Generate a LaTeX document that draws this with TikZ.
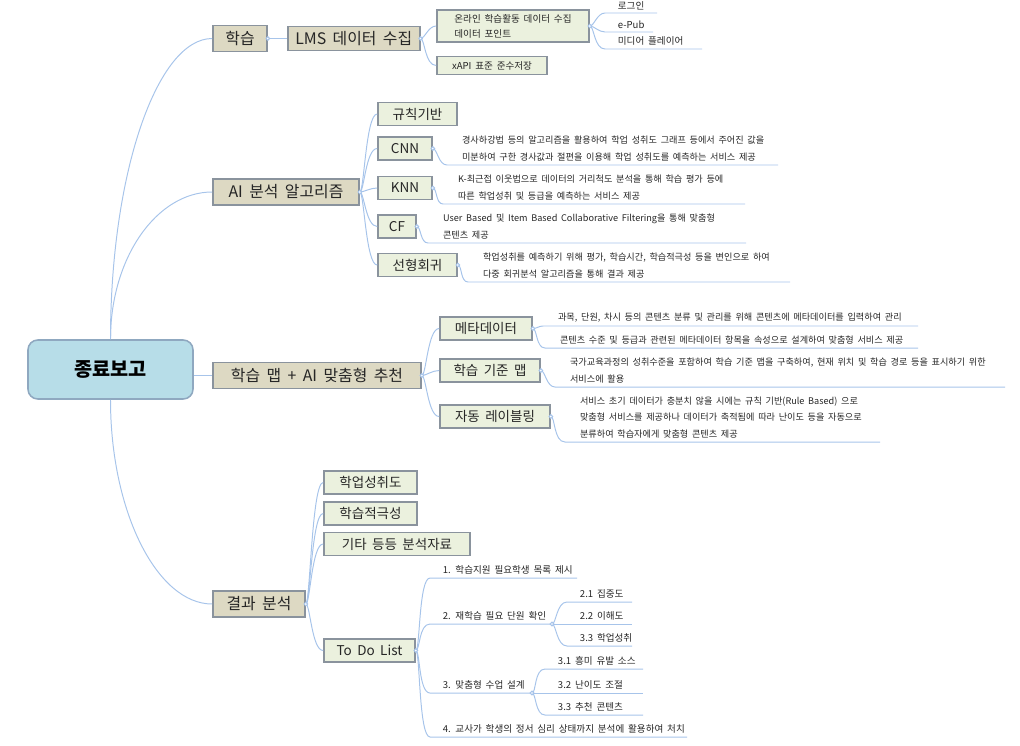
\documentclass[tikz,border=0pt]{standalone}
\usepackage{fontspec}
\setmainfont{Noto Sans CJK KR}[WordSpace=1.8]
\usepackage{xcolor}
\usepackage{tikz}
\usetikzlibrary{positioning,calc}

\definecolor{linkblue}{HTML}{A7C4EA}
\definecolor{rootfill}{HTML}{B7DDE8}
\definecolor{rootdraw}{HTML}{8FA8C0}
\definecolor{beige}{HTML}{DDD9C3}
\definecolor{sage}{HTML}{EBF1DE}
\definecolor{boxdraw}{HTML}{8A939D}
\definecolor{inkgray}{HTML}{262626}

\begin{document}
\begin{tikzpicture}[
    x=0.025cm, y=-0.025cm,
    rootbox/.style={rectangle, draw=rootdraw, line width=1.1pt, fill=rootfill, rounded corners=7pt, minimum width=4.125cm, minimum height=1.475cm, font=\fontsize{14}{16}\selectfont\bfseries},
    topicbox/.style={rectangle, draw=boxdraw, line width=1.2pt, fill=beige, minimum height=0.65cm, inner sep=0pt, text=inkgray, font=\fontsize{11.3}{13}\selectfont},
    subbox/.style={rectangle, draw=boxdraw, line width=1.2pt, fill=sage, minimum height=0.575cm, inner sep=0pt, text=inkgray, font=\fontsize{9.6}{11}\selectfont},
    leaftext/.style={anchor=south west, inner xsep=9pt, inner ysep=2.2pt, text=inkgray, font=\fontsize{6.8}{8}\selectfont},
    desctext/.style={anchor=south west, align=left, inner xsep=10.5pt, inner ysep=2.6pt, text=inkgray, font=\fontsize{6.5}{11.7}\selectfont},
    conn/.style={draw=linkblue, line width=0.7pt},
    curvy/.style={out=0, in=180, out max distance=3pt, in max distance=8pt}
]
    \useasboundingbox (0,0) rectangle (1020,745);

    % --- Root ---
    \node[rootbox] (root) at (110.5,369.5) {종료보고};

    % --- Main topics ---
    \node[topicbox, minimum width=1.35cm] (learn) at (240,38.5) {학습};
    \node[topicbox, minimum width=3.65cm] (ai) at (286,192) {AI 분석 알고리즘};
    \node[topicbox, minimum width=5.2cm] (map) at (317,375.5) {학습 맵 + AI 맞춤형 추천};
    \node[topicbox, minimum width=2.3cm] (result) at (259,604) {결과 분석};

    \draw[conn] (root.north) .. controls +(0,-166) and +(-55,0) .. (learn.west);
    \draw[conn] (root.north) .. controls +(0,-82) and +(-55,0) .. (ai.west);
    \draw[conn] (map.west -| root.east) -- (map.west);
    \draw[conn] (root.south) .. controls +(0,112) and +(-55,0) .. (result.west);

    % --- 학습 ---
    \node[topicbox, minimum width=3.3cm, minimum height=0.6cm, right=0.475cm of learn] (lms) {LMS 데이터 수집};
    \node[subbox, minimum width=3.8cm, minimum height=0.8cm, align=left, font=\fontsize{6.8}{10.6}\selectfont] (online) at (513,26) {온라인 학습활동 데이터 수집\\데이터 포인트};
    \node[subbox, minimum width=2.75cm, minimum height=0.45cm, font=\fontsize{6.8}{8}\selectfont] (xapi) at (492,65.5) {xAPI 표준 준수저장};
    \node[leaftext] (login) at (605,13) {로그인};
    \node[leaftext] (epub) at (605,32) {e-Pub};
    \node[leaftext] (player) at (605,49) {미디어 플레이어};

    \draw[conn] (learn) -- (lms);
    \draw[conn] (lms.east) to[curvy] (online.west);
    \draw[conn] (lms.east) to[curvy] (xapi.west);
    \draw[conn] (online.east) to[curvy] (login.south west) -- ++(52,0);
    \draw[conn] (online.east) to[curvy] (epub.south west) -- ++(48,0);
    \draw[conn] (online.east) to[curvy] (player.south west) -- ++(97,0);

    % --- AI 분석 알고리즘 ---
    \node[subbox, minimum width=1.975cm] (rule) at (417.5,114) {규칙기반};
    \node[subbox, minimum width=1.35cm] (cnn) at (405,148.5) {CNN};
    \node[subbox, minimum width=1.35cm] (knn) at (405,188) {KNN};
    \node[subbox, minimum width=0.95cm] (cf) at (397,226.5) {CF};
    \node[subbox, minimum width=1.975cm] (linreg) at (417.5,265) {선형회귀};

    \foreach \c in {rule,cnn,knn,cf,linreg}
        \draw[conn] (ai.east) to[curvy] (\c.west);

    \node[desctext] (cnn-txt) at (447,165) {경사하강법 등의 알고리즘을 활용하여 학업 성취도 그래프 등에서 주어진 값을\\미분하여 구한 경사값과 절편을 이용해 학업 성취도를 예측하는 서비스 제공};
    \node[desctext] (knn-txt) at (443,204) {K-최근접 이웃법으로 데이터의 거리척도 분석을 통해 학습 평가 등에\\따른 학업성취 및 등급을 예측하는 서비스 제공};
    \node[desctext] (cf-txt) at (428,243) {User Based 및 Item Based Collaborative Filtering을 통해 맞춤형\\콘텐츠 제공};
    \node[desctext] (linreg-txt) at (468,282) {학업성취를 예측하기 위해 평가, 학습시간, 학습적극성 등을 변인으로 하여\\다중 회귀분석 알고리즘을 통해 결과 제공};

    \draw[conn] (cnn.east) to[curvy] (cnn-txt.south west) -- ++(331,0);
    \draw[conn] (knn.east) to[curvy] (knn-txt.south west) -- ++(302,0);
    \draw[conn] (cf.east) to[curvy] (cf-txt.south west) -- ++(318,0);
    \draw[conn] (linreg.east) to[curvy] (linreg-txt.south west) -- ++(322,0);

    % --- 학습 맵 + AI 맞춤형 추천 ---
    \node[subbox, minimum width=2.3cm] (meta) at (486,328.5) {메타데이터};
    \node[subbox, minimum width=2.5cm] (stdmap) at (490,370.5) {학습 기준 맵};
    \node[subbox, minimum width=2.75cm] (autolabel) at (495,416.5) {자동 레이블링};

    \foreach \c in {meta,stdmap,autolabel}
        \draw[conn] (map.east) to[curvy] (\c.west);

    \node[desctext] (meta-txt1) at (543,326) {과목, 단원, 차시 등의 콘텐츠 분류 및 관리를 위해 콘텐츠에 메타데이터를 입력하여 관리};
    \node[desctext] (meta-txt2) at (545,348) {콘텐츠 수준 및 등급과 관련된 메타데이터 항목을 속성으로 설계하여 맞춤형 서비스 제공};
    \node[desctext] (stdmap-txt) at (555,387) {국가교육과정의 성취수준을 포함하여 학습 기준 맵을 구축하여, 현재 위치 및 학습 경로 등을 표시하기 위한\\서비스에 활용};
    \node[desctext] (autolabel-txt) at (565,442) {서비스 초기 데이터가 충분치 않을 시에는 규칙 기반(Rule Based) 으로\\맞춤형 서비스를 제공하나 데이터가 축적됨에 따라 난이도 등을 자동으로\\분류하여 학습자에게 맞춤형 콘텐츠 제공};

    \draw[conn] (meta.east) to[curvy] (meta-txt1.south west) -- ++(375,0);
    \draw[conn] (meta.east) to[curvy] (meta-txt2.south west) -- ++(373,0);
    \draw[conn] (stdmap.east) to[curvy] (stdmap-txt.south west) -- ++(450,0);
    \draw[conn] (autolabel.east) to[curvy] (autolabel-txt.south west) -- ++(315,0);

    % --- 결과 분석 ---
    \node[subbox, minimum width=2.325cm] (achieve) at (370.5,482.5) {학업성취도};
    \node[subbox, minimum width=2.325cm] (active) at (370.5,513.5) {학습적극성};
    \node[subbox, minimum width=3.65cm] (etc) at (397,544) {기타 등등 분석자료};
    \node[subbox, minimum width=2.275cm] (todo) at (369.5,650.5) {To Do List};

    \foreach \c in {achieve,active,etc,todo}
        \draw[conn] (result.east) to[curvy] (\c.west);

    % To Do List items
    \node[leaftext] (todo1) at (430,578) {1. 학습지원 필요학생 목록 제시};
    \node[leaftext] (todo2) at (430,624) {2. 재학습 필요 단원 확인};
    \node[leaftext] (todo3) at (430,693) {3. 맞춤형 수업 설계};
    \node[leaftext] (todo4) at (430,737) {4. 교사가 학생의 정서 심리 상태까지 분석에 활용하여 처치};

    \draw[conn] (todo.east) to[curvy] (todo1.south west) -- ++(147,0);
    \draw[conn] (todo.east) to[curvy] (todo2.south west) -- ++(122,0) coordinate (todo2-end);
    \draw[conn] (todo.east) to[curvy] (todo3.south west) -- ++(102,0) coordinate (todo3-end);
    \draw[conn] (todo.east) to[curvy] (todo4.south west) -- ++(257,0);

    \node[leaftext] (sub21) at (567,602) {2.1 집중도};
    \node[leaftext] (sub22) at (567,624) {2.2 이해도};
    \node[leaftext] (sub23) at (567,646) {3.3 학업성취};
    \node[leaftext] (sub31) at (545,669) {3.1 흥미 유발 소스};
    \node[leaftext] (sub32) at (545,693) {3.2 난이도 조절};
    \node[leaftext] (sub33) at (545,715) {3.3 추천 콘텐츠};

    \foreach \c in {sub21,sub22,sub23}
        \draw[conn] (todo2-end) to[curvy] (\c.south west) -- ++(65,0);
    \foreach \c in {sub31,sub32,sub33}
        \draw[conn] (todo3-end) to[curvy] (\c.south west) -- ++(98,0);

    % small joints
    \foreach \n in {learn,lms,online,ai,cnn,knn,cf,linreg,map,meta,stdmap,autolabel,result,todo}
        \draw[conn, fill=white] (\n.east) circle[radius=1.3pt];
    \draw[conn, fill=white] (todo2-end) circle[radius=1.3pt];
    \draw[conn, fill=white] (todo3-end) circle[radius=1.3pt];

\end{tikzpicture}
\end{document}
